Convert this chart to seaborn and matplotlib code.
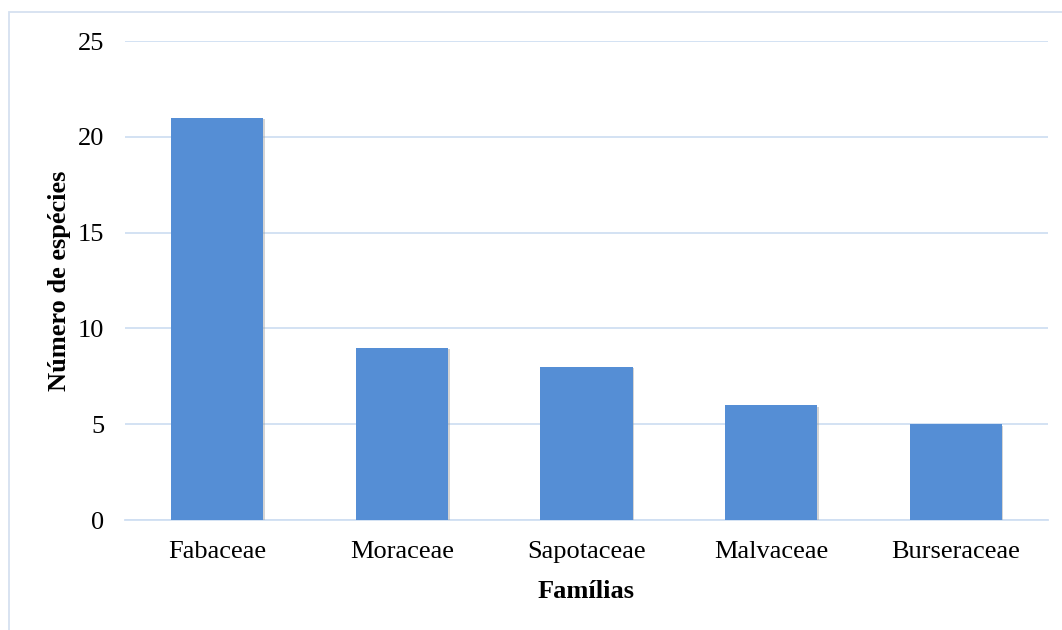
import matplotlib
matplotlib.use("Agg")
import matplotlib.pyplot as plt
import matplotlib.patheffects as pe
from matplotlib.patches import Rectangle
import seaborn as sns
import pandas as pd

familias = ["Fabaceae", "Moraceae", "Sapotaceae", "Malvaceae", "Burseraceae"]
especies = [21, 9, 8, 6, 5]
yticks = [0, 5, 10, 15, 20, 25]

df = pd.DataFrame({"Famílias": familias, "Número de espécies": especies})

sns.set_theme(style="white")
plt.rcParams["font.family"] = ["Liberation Serif", "DejaVu Serif"]

fig = plt.figure(figsize=(10.62, 6.30), dpi=100)
ax = fig.add_axes([0.1177, 0.1746, 0.8691, 0.7603])

sns.barplot(data=df, x="Famílias", y="Número de espécies", color="#558ed5",
            saturation=1, width=0.5, ax=ax, zorder=3)
for bar in ax.patches:
    bar.set_linewidth(0)
    bar.set_path_effects([pe.SimplePatchShadow(offset=(1.2, -1.2), shadow_rgbFace="#a0a0a0", alpha=0.45),
                          pe.Normal()])

ax.set_xlim(-0.5, 4.5)
ax.set_ylim(0, 25)
ax.set_yticks(yticks)
grid_col = "#d0dff2"
ax.yaxis.grid(True, color=grid_col, linewidth=1.3, zorder=0)
ax.xaxis.grid(False)
for s in ["top", "right", "left"]:
    ax.spines[s].set_visible(False)
ax.spines["bottom"].set_color(grid_col)
ax.spines["bottom"].set_linewidth(1.3)
ax.tick_params(axis="both", length=0, labelsize=19, colors="black")
ax.tick_params(axis="y", pad=15)
ax.tick_params(axis="x", pad=15)
ax.set_xlabel("Famílias", fontsize=19, fontweight="bold", color="black", labelpad=12)
ax.set_ylabel("Número de espécies", fontsize=19, fontweight="bold", color="black", labelpad=5)

fig.patches.append(Rectangle((9 / 1062, -0.05), 1.1, 1 - 12 / 630 + 0.05,
                             transform=fig.transFigure, fill=False,
                             edgecolor="#d5e1f0", linewidth=1.3))

fig.savefig("out.png", dpi=100)
